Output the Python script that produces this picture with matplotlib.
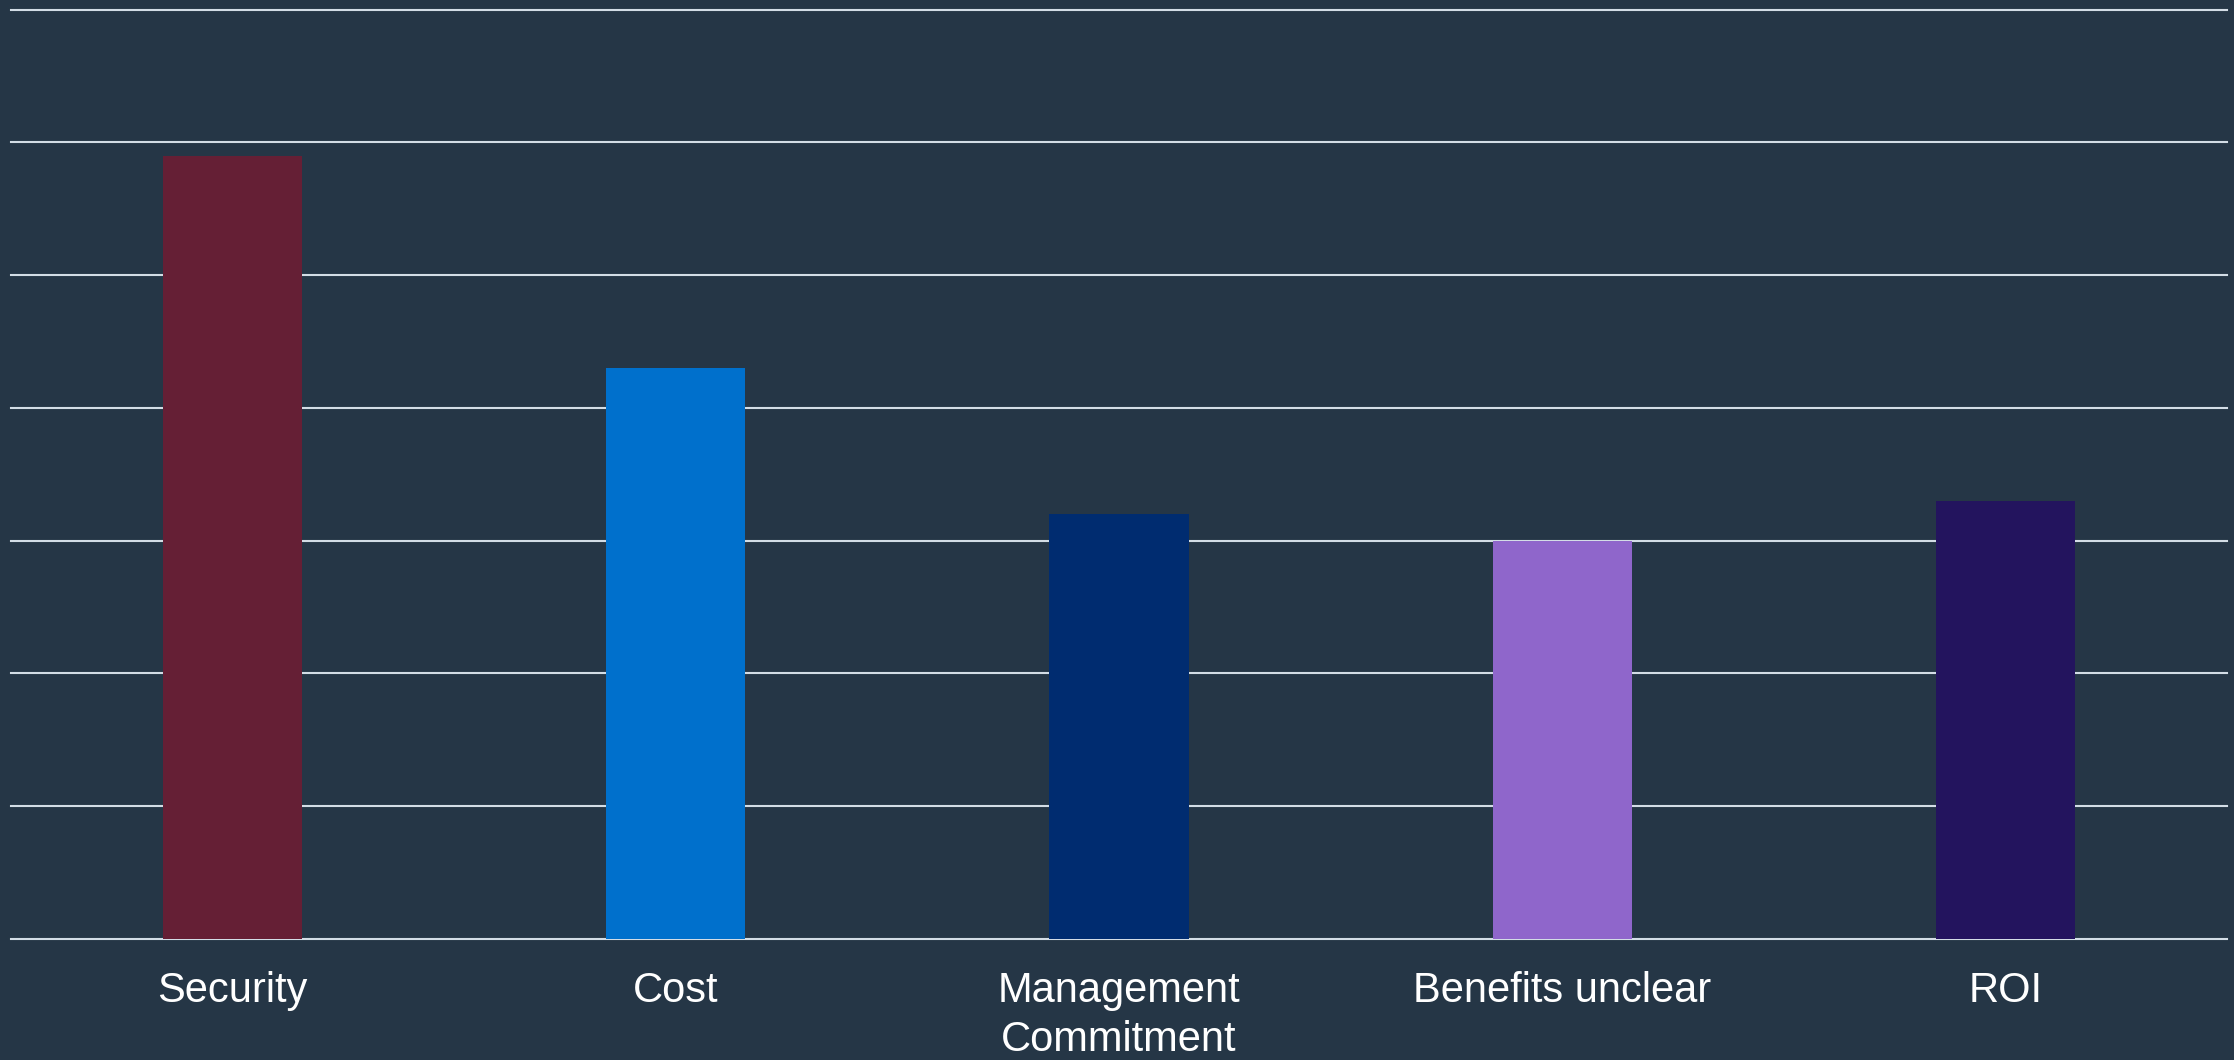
import matplotlib
matplotlib.use("Agg")
import matplotlib.pyplot as plt

categories = ["Security", "Cost", "Management\nCommitment", "Benefits unclear", "ROI"]
values = [5.9, 4.3, 3.2, 3.0, 3.3]
colors = ["#651f35", "#0070cc", "#002c70", "#8f66cb", "#23145e"]
yticks = [0, 1, 2, 3, 4, 5, 6, 7]

bg = "#253646"
plt.rcParams['font.family'] = ['Liberation Sans', 'DejaVu Sans']

fig = plt.figure(figsize=(22.34, 10.60), dpi=100, facecolor=bg)
ax = fig.add_axes([0.0049, 0.1144, 0.992, 0.8766], facecolor=bg)

x = list(range(len(categories)))
ax.bar(x, values, width=0.314, color=colors, zorder=3)

ax.set_xlim(-0.5, len(categories) - 0.5)
ax.set_ylim(0, 7)
ax.set_yticks(yticks)
ax.set_yticklabels([])
ax.tick_params(axis='y', length=0)
ax.set_xticks(x)
ax.set_xticklabels(categories, color="white", fontsize=30, linespacing=1.3)
ax.tick_params(axis='x', length=0, pad=23)
ax.grid(axis='y', color="#d3dde6", linewidth=1.5, zorder=1)
ax.grid(axis='x', visible=False)
for gl in ax.get_ygridlines():
    gl.set_clip_on(False)
for s in ax.spines.values():
    s.set_visible(False)

fig.savefig("out.png", dpi=100, facecolor=bg)
